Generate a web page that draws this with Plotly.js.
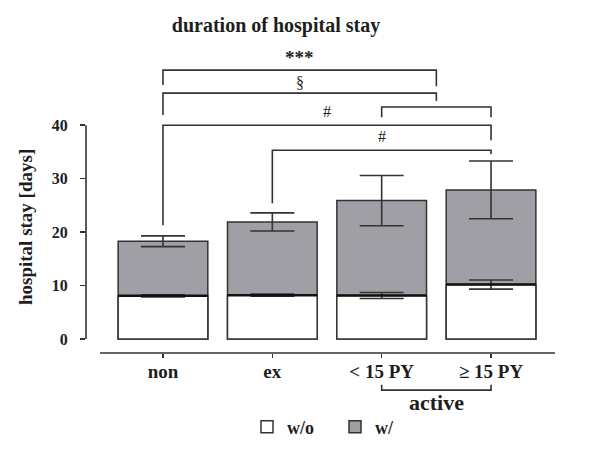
<!DOCTYPE html>
<html>
<head>
<meta charset="utf-8">
<script src="https://cdn.plot.ly/plotly-3.0.1.min.js"></script>
<style>html,body{margin:0;padding:0;background:#fff;}#chart{width:606px;height:449px;}</style>
</head>
<body>
<div id="chart"></div>
<script>
// ---- data ----
const categories = ['non', 'ex', '< 15 PY', '≥ 15 PY'];
const withComp = [18.3, 21.9, 25.9, 27.9];        // w/ (grey)
const withCompErr = [1.0, 1.7, 4.7, 5.4];
const withoutComp = [8.1, 8.2, 8.15, 10.2];       // w/o (white)
const withoutCompErr = [0.2, 0.2, 0.55, 0.85];
const yTicks = [0, 10, 20, 30, 40];
const seriesNames = ['w/o', 'w/'];

// ---- styling ----
const FONT = 'Liberation Serif, Times New Roman, serif';
const LINE = '#333333';
const GREY = '#a09fa5';
const TXT = '#1e1e1e';

const barWidth = 0.82;

const traces = [
  {
    type: 'bar', name: seriesNames[1], x: categories, y: withComp,
    width: barWidth, legendrank: 2,
    marker: {color: GREY, line: {color: LINE, width: 1.5}},
    error_y: {type: 'data', array: withCompErr, visible: true, color: LINE, thickness: 1.6, width: 22}
  },
  {
    type: 'bar', name: seriesNames[0], x: categories, y: withoutComp,
    width: barWidth, legendrank: 1,
    marker: {color: '#ffffff', line: {color: LINE, width: 1.5}},
    error_y: {type: 'data', array: withoutCompErr, visible: true, color: LINE, thickness: 1.6, width: 22}
  },
  // thicker separating edge on top of the white bars
  {
    type: 'scatter', mode: 'markers', x: categories, y: withoutComp, showlegend: false, hoverinfo: 'skip',
    marker: {symbol: 'line-ew', size: 64, line: {color: '#111', width: 2.6}}
  }
];

function bracket(x0, x1, y, yl, yr) {
  return {type: 'path', xref: 'x', yref: 'y',
    path: `M${x0},${yl} L${x0},${y} L${x1},${y} L${x1},${yr}`,
    line: {color: LINE, width: 1.6}};
}

const shapes = [
  // axis lines
  {type: 'line', xref: 'paper', yref: 'y', x0: 0, x1: 0, y0: 0, y1: 40, line: {color: LINE, width: 1.6}},
  {type: 'line', xref: 'paper', yref: 'paper', x0: 0.0299, x1: 1, y0: 0, y1: 0, line: {color: LINE, width: 1.6}},
  // significance brackets
  bracket(0, 2.5, 50.3, 47.5, 47.3),
  bracket(0, 2.5, 46.0, 41.9, 44.5),
  bracket(2, 3, 43.4, 41.5, 41.5),
  bracket(0, 3, 40.0, 21.3, 37.2),
  bracket(1, 3, 35.3, 25.4, 34.6),
  // "active" group bracket
  {type: 'path', xref: 'x', yref: 'paper', path: 'M2,-0.109 L2,-0.127 L3,-0.127 L3,-0.109',
   line: {color: LINE, width: 1.6}}
];

const annotations = [
  {text: '***', x: 1.25, y: 1.0103, xref: 'x', yref: 'paper', showarrow: false, yanchor: 'middle',
   font: {family: FONT, size: 19, weight: 'bold', color: TXT}},
  {text: '§', x: 1.25, y: 47.9, xref: 'x', yref: 'y', showarrow: false,
   font: {family: FONT, size: 16, color: TXT}},
  {text: '#', x: 1.5, y: 42.6, xref: 'x', yref: 'y', showarrow: false,
   font: {family: FONT, size: 16, color: TXT}},
  {text: '#', x: 2.0, y: 37.8, xref: 'x', yref: 'y', showarrow: false,
   font: {family: FONT, size: 16, color: TXT}},
  {text: 'active', x: 2.5, y: -0.171, xref: 'x', yref: 'paper', showarrow: false, yanchor: 'middle',
   font: {family: FONT, size: 22, weight: 'bold', color: TXT}},
  {text: 'hospital stay [days]', x: -0.130, y: 0.4315, xref: 'paper', yref: 'paper',
   textangle: -90, showarrow: false, xanchor: 'center', yanchor: 'middle',
   font: {family: FONT, size: 19, weight: 'bold', color: TXT}}
];

const layout = {
  width: 606, height: 449,
  paper_bgcolor: '#ffffff', plot_bgcolor: 'rgba(0,0,0,0)',
  margin: {l: 86, r: 51, t: 61, b: 96},
  barmode: 'overlay',
  title: {text: 'duration of hospital stay', xref: 'container', yref: 'container',
          x: 276 / 606, y: 1 - 25 / 449, xanchor: 'center', yanchor: 'middle',
          font: {family: FONT, size: 20, weight: 'bold', color: TXT}},
  xaxis: {type: 'category', categoryorder: 'array', categoryarray: categories,
          range: [-0.704, 3.585], showline: false, showgrid: false, zeroline: false,
          ticks: 'outside', ticklen: 4, tickwidth: 1.6, tickcolor: LINE,
          ticklabelstandoff: -3,
          tickfont: {family: FONT, size: 19, weight: 'bold', color: TXT}},
  yaxis: {range: [-2.6, 52], tickvals: yTicks, ticktext: yTicks.map(String),
          showline: false, showgrid: false, zeroline: false,
          ticks: 'outside', ticklen: 5, tickwidth: 1.6, tickcolor: LINE,
          ticklabelstandoff: 9,
          tickfont: {family: FONT, size: 16, weight: 'bold', color: TXT}},
  showlegend: true,
  legend: {orientation: 'h', xref: 'container', yref: 'container', x: 247 / 606, y: 1 - 427 / 449,
           xanchor: 'left', yanchor: 'middle', bgcolor: 'rgba(0,0,0,0)',
           entrywidth: 43, entrywidthmode: 'pixels',
           font: {family: FONT, size: 18, weight: 'bold', color: TXT}},
  shapes: shapes,
  annotations: annotations
};

Plotly.newPlot('chart', traces, layout, {staticPlot: true, displayModeBar: false});
</script>
</body>
</html>
